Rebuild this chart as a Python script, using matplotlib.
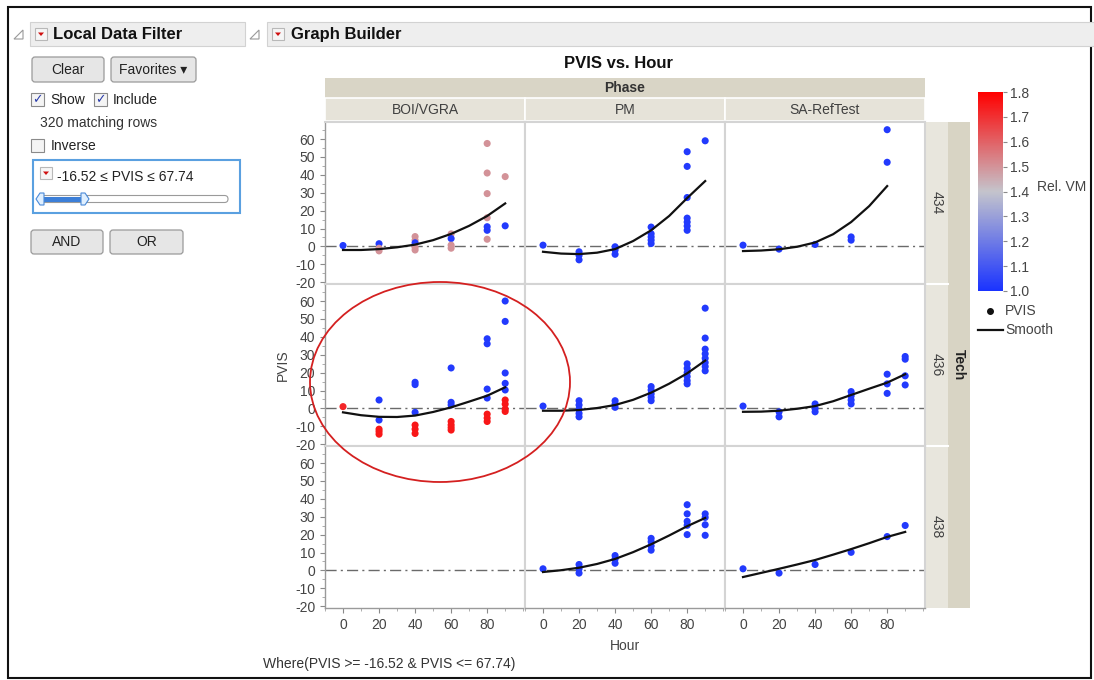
import numpy as np
import matplotlib.pyplot as plt
import matplotlib.ticker as mticker
from matplotlib.colors import LinearSegmentedColormap, Normalize
from matplotlib.patches import Rectangle, FancyBboxPatch, Ellipse, Polygon
from matplotlib.lines import Line2D

plt.rcParams['font.family'] = ['Liberation Sans', 'DejaVu Sans']
plt.rcParams['axes.unicode_minus'] = False

phases = ['BOI/VGRA', 'PM', 'SA-RefTest']
techs = ['434', '436', '438']
smooth_hours = [0, 10, 20, 30, 40, 50, 60, 70, 80, 90]

# Tech 434
boi_434_hour = [0, 20, 20, 20, 40, 40, 40, 40, 40, 60, 60, 60, 60, 80, 80, 80, 80, 80, 80, 80, 90, 90]
boi_434_pvis = [0.5, 1.5, -1, -2.5, 5.5, 3.5, 2, -0.5, -2, 7, 4.4, 0.7, -1, 57.5, 41, 29.5, 16, 4, 11, 9, 39, 11.5]
boi_434_vm = [1.02, 1.02, 1.5, 1.5, 1.5, 1.5, 1.02, 1.5, 1.5, 1.5, 1.02, 1.5, 1.5,
              1.5, 1.5, 1.5, 1.5, 1.5, 1.02, 1.02, 1.5, 1.02]
boi_434_smooth = [-2, -2, -1.5, -0.5, 1, 3.5, 7, 11.5, 17, 24]

pm_434_hour = [0, 20, 20, 20, 40, 40, 40, 60, 60, 60, 60, 60, 80, 80, 80, 80, 80, 80, 80, 90]
pm_434_pvis = [0.7, -3, -5, -7.5, -0.2, -2, -4.4, 10.8, 7.1, 5.3, 3.5, 1.6,
               52.9, 44.7, 27.3, 15.8, 13.6, 11.4, 9, 59]
pm_434_vm = [1.02, 1.02, 1.02, 1.02, 1.02, 1.02, 1.02, 1.02, 1.02, 1.02, 1.02, 1.02,
             1.02, 1.02, 1.02, 1.02, 1.02, 1.02, 1.02, 1.02]
pm_434_smooth = [-3, -4, -4.3, -3.5, -1.5, 3, 9, 17, 27, 36.5]

sa_434_hour = [0, 20, 40, 60, 60, 80, 80]
sa_434_pvis = [0.7, -1.5, 1.1, 5.3, 3.5, 65.2, 47]
sa_434_vm = [1.02, 1.02, 1.02, 1.02, 1.02, 1.02, 1.02]
sa_434_smooth = [-2.6, -2.3, -1.6, -0.2, 2.2, 6.8, 13.6, 22.5, 33.7]

# Tech 436
boi_436_hour = [0, 20, 20, 20, 20, 20, 40, 40, 40, 40, 40, 40, 60, 60, 60, 60, 60, 60, 60,
                80, 80, 80, 80, 80, 80, 80, 90, 90, 90, 90, 90, 90, 90, 90, 90]
boi_436_pvis = [1, 4.7, -6.5, -11.6, -12.9, -14.4, 14.6, 13.3, -2.2, -9.3, -11.6, -14,
                22.6, 3.4, 1.9, -7.3, -9.2, -10.7, -12.1,
                38.9, 36.1, 10.8, 5.8, -3.2, -5.4, -7.3,
                60, 48.6, 19.8, 14, 10.3, 4.7, 2.4, -0.4, -1.7]
boi_436_vm = [1.72, 1.02, 1.02, 1.75, 1.75, 1.75, 1.02, 1.02, 1.02, 1.75, 1.75, 1.75,
              1.02, 1.02, 1.02, 1.75, 1.75, 1.75, 1.75,
              1.02, 1.02, 1.02, 1.02, 1.75, 1.75, 1.75,
              1.02, 1.02, 1.02, 1.02, 1.02, 1.75, 1.75, 1.75, 1.75]
boi_436_smooth = [-2.2, -3.8, -4.7, -4.8, -4, -2, 0.6, 3.8, 7.1, 11.8]

pm_436_hour = [0, 20, 20, 20, 20, 20, 40, 40, 40, 60, 60, 60, 60, 60,
               80, 80, 80, 80, 80, 80, 90, 90, 90, 90, 90, 90, 90, 90]
pm_436_pvis = [1.3, 4.3, 1.9, -0.5, -2.8, -4.7, 4.3, 2.5, 0.6, 12.2, 10.3, 8.1, 6.2, 4.3,
               24.9, 22.4, 20, 17.8, 15.5, 13.7, 56, 39.3, 33.1, 30.5, 28, 25.6, 23.4, 21]
pm_436_vm = [1.02, 1.02, 1.02, 1.02, 1.02, 1.02, 1.02, 1.02, 1.02, 1.02, 1.02, 1.02, 1.02, 1.02,
             1.02, 1.02, 1.02, 1.02, 1.02, 1.02, 1.02, 1.02, 1.02, 1.02, 1.02, 1.02, 1.02, 1.02]
pm_436_smooth = [-1.3, -1.3, -0.9, 0.2, 1.9, 4.8, 8.8, 13.8, 19.6, 26.7]

sa_436_hour = [0, 20, 20, 40, 40, 40, 60, 60, 60, 60, 80, 80, 80, 90, 90, 90, 90]
sa_436_pvis = [1.3, -1.9, -4.7, 2.5, 0, -1.9, 9.4, 7, 4.7, 2.5, 19.1, 13.7, 8.4, 29, 27.5, 18.2, 13.1]
sa_436_vm = [1.02, 1.02, 1.02, 1.02, 1.02, 1.02, 1.02, 1.02, 1.02, 1.02, 1.02, 1.02, 1.02,
             1.02, 1.02, 1.02, 1.02]
sa_436_smooth = [-1.9, -1.8, -1.3, -0.2, 1.3, 4, 7.5, 11, 14.4, 19.1]

# Tech 438
pm_438_hour = [0, 20, 20, 20, 40, 40, 40, 60, 60, 60, 60, 80, 80, 80, 80, 80, 90, 90, 90, 90]
pm_438_pvis = [0.9, 3.3, 0.9, -1.5, 8.3, 6.4, 4, 17.9, 16.1, 13.7, 11.3,
               36.7, 31.6, 27.4, 25.2, 20, 31.6, 29.6, 25.5, 19.6]
pm_438_vm = [1.02, 1.02, 1.02, 1.02, 1.02, 1.02, 1.02, 1.02, 1.02, 1.02, 1.02,
             1.02, 1.02, 1.02, 1.02, 1.02, 1.02, 1.02, 1.02, 1.02]
pm_438_smooth = [-0.9, 0.1, 1.5, 3.6, 6.4, 10.2, 14.6, 19.5, 24.7, 29.3]

sa_438_hour = [0, 20, 40, 60, 80, 90]
sa_438_pvis = [0.9, -1.5, 3.3, 10.1, 18.9, 25.1]
sa_438_vm = [1.02, 1.02, 1.02, 1.02, 1.02, 1.02]
sa_438_smooth = [-3.7, -1.4, 0.9, 3.3, 5.8, 8.8, 11.9, 15.2, 18.7, 21.5]

panels = {
    (0, 0): (boi_434_hour, boi_434_pvis, boi_434_vm, boi_434_smooth),
    (0, 1): (pm_434_hour, pm_434_pvis, pm_434_vm, pm_434_smooth),
    (0, 2): (sa_434_hour, sa_434_pvis, sa_434_vm, sa_434_smooth),
    (1, 0): (boi_436_hour, boi_436_pvis, boi_436_vm, boi_436_smooth),
    (1, 1): (pm_436_hour, pm_436_pvis, pm_436_vm, pm_436_smooth),
    (1, 2): (sa_436_hour, sa_436_pvis, sa_436_vm, sa_436_smooth),
    (2, 1): (pm_438_hour, pm_438_pvis, pm_438_vm, pm_438_smooth),
    (2, 2): (sa_438_hour, sa_438_pvis, sa_438_vm, sa_438_smooth),
}

cmap = LinearSegmentedColormap.from_list('bgr', [(0, '#1a33ff'), (0.5, '#c4c4cc'), (1, '#ff0000')])
norm = Normalize(1.0, 1.8)

W, H = 1094, 680
fig = plt.figure(figsize=(W / 100, H / 100), dpi=100, facecolor='white')


def px_axes(x0, y0, x1, y1, **kw):
    return fig.add_axes([x0 / W, 1 - y1 / H, (x1 - x0) / W, (y1 - y0) / H], **kw)


# background UI layer in pixel coordinates
ui = px_axes(0, 0, W, H, zorder=0)
ui.set_xlim(0, W)
ui.set_ylim(H, 0)
ui.axis('off')


def button(x0, y0, x1, y1, label):
    ui.add_patch(FancyBboxPatch((x0, y0), x1 - x0, y1 - y0, boxstyle='round,pad=0,rounding_size=3',
                                fc='#e6e6e6', ec='#9a9a9a', lw=0.9))
    ui.text((x0 + x1) / 2, (y0 + y1) / 2, label, ha='center', va='center', fontsize=10, color='#222222')


def dropdown_icon(x, y):
    ui.add_patch(Rectangle((x, y), 12, 12, fc='#f6f6f6', ec='#b8b8b8', lw=0.8))
    ui.add_patch(Polygon([(x + 3, y + 4.5), (x + 9, y + 4.5), (x + 6, y + 8)], fc='#d01010', ec='none'))


def checkbox(x, y, checked):
    ui.add_patch(Rectangle((x, y), 13, 13, fc='#f4f4f4', ec='#8a8a8a', lw=0.8))
    if checked:
        ui.text(x + 6.5, y + 7, '\u2713', ha='center', va='center', fontsize=9, color='#2a3caa',
                fontweight='bold')


# outer frame
ui.add_patch(Rectangle((8, 7), 1083, 671, fc='none', ec='#111111', lw=1.5))

# Local Data Filter panel
ui.add_patch(Polygon([(14, 39), (23, 30), (23, 39)], fc='none', ec='#9a9a9a', lw=0.8))
ui.add_patch(Rectangle((30, 22), 215, 24, fc='#eeeeee', ec='#d2d2d2', lw=0.8))
dropdown_icon(35, 28)
ui.text(53, 34.5, 'Local Data Filter', ha='left', va='center', fontsize=12, fontweight='bold', color='#111111')
button(32, 57, 104, 82, 'Clear')
button(111, 57, 196, 82, 'Favorites \u25be')
checkbox(31, 93, True)
ui.text(50, 100, 'Show', ha='left', va='center', fontsize=10, color='#222222')
checkbox(94, 93, True)
ui.text(113, 100, 'Include', ha='left', va='center', fontsize=10, color='#222222')
ui.text(40, 123, '320 matching rows', ha='left', va='center', fontsize=10, color='#333333')
checkbox(31, 139, False)
ui.text(51, 146, 'Inverse', ha='left', va='center', fontsize=10, color='#222222')
ui.add_patch(Rectangle((33, 160), 207, 53, fc='white', ec='#5aa0e0', lw=1.5))
dropdown_icon(40, 167)
ui.text(57, 177, '-16.52 \u2264 PVIS \u2264 67.74', ha='left', va='center', fontsize=10, color='#222222')
ui.add_patch(FancyBboxPatch((40, 195.5), 188, 7, boxstyle='round,pad=0,rounding_size=3.5',
                            fc='white', ec='#9a9a9a', lw=0.8))
ui.add_patch(Rectangle((42, 196.5), 43, 5, fc='#3c7fd8', ec='none'))
for hx in (40, 85):
    ui.add_patch(Polygon([(hx - 4, 199), (hx, 193), (hx + 4, 193), (hx + 4, 205), (hx, 205)] if hx == 40 else
                         [(hx + 4, 199), (hx, 193), (hx - 4, 193), (hx - 4, 205), (hx, 205)],
                         fc='#dfefff', ec='#4a8ad8', lw=0.8))
button(31, 230, 103, 254, 'AND')
button(110, 230, 183, 254, 'OR')

# Graph Builder header
ui.add_patch(Polygon([(250, 39), (259, 30), (259, 39)], fc='none', ec='#9a9a9a', lw=0.8))
ui.add_patch(Rectangle((267, 22), 830, 24, fc='#eeeeee', ec='#d2d2d2', lw=0.8))
dropdown_icon(272, 28)
ui.text(291, 34.5, 'Graph Builder', ha='left', va='center', fontsize=12, fontweight='bold', color='#111111')
ui.text(618, 63, 'PVIS vs. Hour', ha='center', va='center', fontsize=12, fontweight='bold', color='#111111')

# facet strips
ui.add_patch(Rectangle((325, 78), 600, 20, fc='#d9d5c6', ec='none'))
ui.text(625, 88, 'Phase', ha='center', va='center', fontsize=10, fontweight='bold', color='#333333')
col_x = [325, 525, 725, 925]
row_y = [122, 284, 446, 608]
for j, ph in enumerate(phases):
    ui.add_patch(Rectangle((col_x[j], 98), 200, 23, fc='#e6e3d9', ec='white', lw=1.2))
    ui.text(col_x[j] + 100, 110, ph, ha='center', va='center', fontsize=10, color='#404040')
ui.add_patch(Rectangle((925, 122), 23, 486, fc='#e8e6dd', ec='none'))
ui.add_patch(Rectangle((948, 122), 22, 486, fc='#d8d4c4', ec='none'))
for i, t in enumerate(techs):
    if i > 0:
        ui.plot([925, 948], [row_y[i], row_y[i]], color='white', lw=1.5)
    ui.text(937, (row_y[i] + row_y[i + 1]) / 2, t, ha='center', va='center', rotation=270,
            fontsize=10, color='#404040')
ui.text(959, 365, 'Tech', ha='center', va='center', rotation=270, fontsize=10,
        fontweight='bold', color='#222222')

# panels
for i in range(3):
    for j in range(3):
        ax = px_axes(col_x[j], row_y[i], col_x[j + 1], row_y[i + 1], zorder=2)
        ax.set_facecolor('white')
        ax.set_xlim(-10, 101)
        ax.set_ylim(-21, 69.5)
        for s in ax.spines.values():
            s.set_color('#d4d4d4')
            s.set_linewidth(1.5)
        ax.axhline(0, color='#6a6a6a', lw=1, ls=(0, (8, 3, 1.5, 3)), zorder=1)
        ax.xaxis.set_major_locator(mticker.MultipleLocator(20))
        ax.xaxis.set_minor_locator(mticker.MultipleLocator(10))
        ax.yaxis.set_major_locator(mticker.MultipleLocator(10))
        ax.yaxis.set_minor_locator(mticker.MultipleLocator(5))
        ax.set_xticks([0, 20, 40, 60, 80])
        ax.tick_params(which='major', length=3.6, width=0.8, color='#8a8a8a', labelsize=10,
                       labelcolor='#444444', pad=3.5)
        ax.tick_params(which='minor', length=2, width=0.6, color='#a0a0a0')
        ax.tick_params(axis='x', labelbottom=(i == 2), bottom=(i == 2), which='both')
        ax.tick_params(axis='y', labelleft=(j == 0), left=(j == 0), which='both')
        if j == 0:
            ax.spines['left'].set_color('#9a9a9a')
            ax.spines['left'].set_linewidth(1)
        if i == 2:
            ax.spines['bottom'].set_color('#9a9a9a')
            ax.spines['bottom'].set_linewidth(1)
        if (i, j) in panels:
            hrs, pv, vm, sm = panels[(i, j)]
            ax.scatter(hrs, pv, c=vm, cmap=cmap, norm=norm, s=26, edgecolors='none', zorder=3)
            ax.plot(smooth_hours[:len(sm)], sm, color='#111111', lw=1.6, zorder=4)

fig.text(625 / W, 1 - 646 / H, 'Hour', ha='center', va='center', fontsize=10, color='#444444')
fig.text(283 / W, 1 - 365 / H, 'PVIS', ha='center', va='center', rotation=90, fontsize=10, color='#444444')
fig.text(263 / W, 1 - 664 / H, 'Where(PVIS >= -16.52 & PVIS <= 67.74)', ha='left', va='center',
         fontsize=10, color='#333333')

# colour bar
cax = px_axes(978, 92, 1003, 291, zorder=2)
cb = fig.colorbar(plt.cm.ScalarMappable(norm=norm, cmap=cmap), cax=cax)
cb.set_ticks([1.0, 1.1, 1.2, 1.3, 1.4, 1.5, 1.6, 1.7, 1.8])
cb.ax.tick_params(labelsize=10, labelcolor='#444444', length=3, color='#8a8a8a', pad=2)
cb.outline.set_visible(False)
fig.text(1037 / W, 1 - 187 / H, 'Rel. VM', ha='left', va='center', fontsize=10, color='#444444')

# legend
ui.add_line(Line2D([990], [311], marker='o', ms=4, color='#111111', ls='none'))
ui.text(1005, 311, 'PVIS', ha='left', va='center', fontsize=10, color='#444444')
ui.add_line(Line2D([978, 1003], [330, 330], color='#111111', lw=1.6))
ui.text(1005, 330, 'Smooth', ha='left', va='center', fontsize=10, color='#444444')

# red highlight ellipse on top
top = px_axes(0, 0, W, H, zorder=10)
top.set_xlim(0, W)
top.set_ylim(H, 0)
top.axis('off')
top.patch.set_alpha(0)
top.add_patch(Ellipse((440, 382), 260, 200, fc='none', ec='#d42020', lw=1.3))

fig.savefig('out.png', dpi=100)
